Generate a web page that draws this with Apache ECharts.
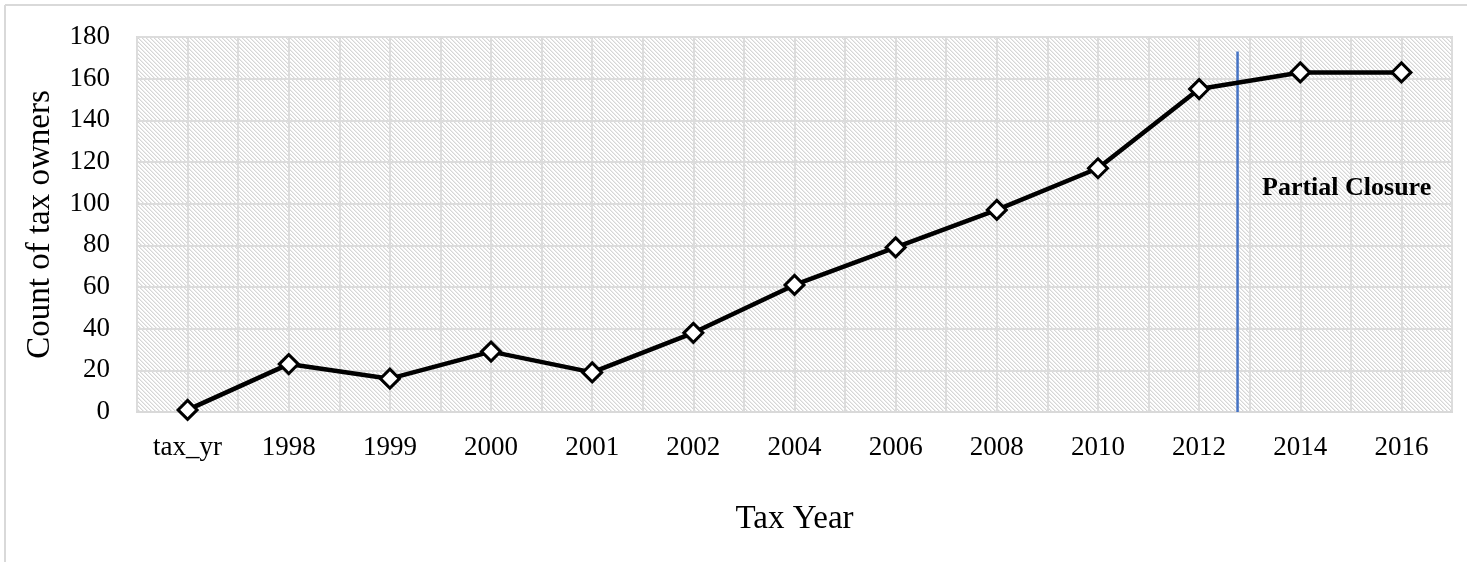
<!DOCTYPE html>
<html>
<head>
<meta charset="utf-8">
<script src="https://cdn.jsdelivr.net/npm/echarts@6/dist/echarts.min.js"></script>
<style>
  html, body { margin: 0; padding: 0; background: #fff; }
  #chart { width: 1467px; height: 562px; }
</style>
</head>
<body>
<div id="chart"></div>
<script>
// Tax owners counted per tax year
const categories = ['tax_yr', '1998', '1999', '2000', '2001', '2002', '2004', '2006', '2008', '2010', '2012', '2014', '2016'];
const ownerCounts = [1, 23, 16, 29, 19, 38, 61, 79, 97, 117, 155, 163, 163];
const yTicks = [0, 20, 40, 60, 80, 100, 120, 140, 160, 180];

// Partial closure marker: position along the category span and its height
const closureAt = 10.88;
const closureTop = 173;
const closureLabel = 'Partial Closure';

const serif = '"Liberation Serif", "Times New Roman", serif';

// Diagonal hatch tile for the plot background
function hatchTile() {
  const c = document.createElement('canvas');
  c.width = 8; c.height = 8;
  const ctx = c.getContext('2d');
  ctx.fillStyle = '#ffffff';
  ctx.fillRect(0, 0, 8, 8);
  const img = ctx.getImageData(0, 0, 8, 8);
  for (let y = 0; y < 8; y++) {
    for (let x = 0; x < 8; x++) {
      const k = ((x - y) % 4 + 4) % 4;
      if (k === 0 || k === 1) {
        const i = (y * 8 + x) * 4;
        const v = k === 0 ? 214 : 236;
        img.data[i] = v; img.data[i + 1] = v; img.data[i + 2] = v; img.data[i + 3] = 255;
      }
    }
  }
  ctx.putImageData(img, 0, 0);
  return c;
}

const chart = echarts.init(document.getElementById('chart'), null, { renderer: 'canvas' });

chart.setOption({
  animation: false,
  backgroundColor: '#ffffff',
  grid: {
    left: 137, right: 15, top: 37, bottom: 150,
    show: true,
    backgroundColor: { image: hatchTile(), repeat: 'repeat' },
    borderColor: '#d9d9d9',
    borderWidth: 2
  },
  graphic: [
    { type: 'line', shape: { x1: 5, y1: 5, x2: 1467, y2: 5 }, style: { stroke: '#d9d9d9', lineWidth: 2 } },
    { type: 'line', shape: { x1: 5, y1: 5, x2: 5, y2: 562 }, style: { stroke: '#d9d9d9', lineWidth: 2 } },
    {
      type: 'text', left: 1262, top: 175, z: 100,
      style: { text: closureLabel, font: 'bold 26px ' + serif, fill: '#000' }
    }
  ],
  xAxis: [
    {
      type: 'category',
      data: categories,
      boundaryGap: true,
      axisLine: { show: true, lineStyle: { color: '#d9d9d9', width: 2 } },
      axisTick: { show: false },
      splitLine: { show: false },
      axisLabel: { color: '#000', fontFamily: serif, fontSize: 27, margin: 22 },
      name: 'Tax Year',
      nameLocation: 'middle',
      nameGap: 91,
      nameTextStyle: { color: '#000', fontFamily: serif, fontSize: 33 }
    },
    {
      type: 'value',
      min: 0, max: categories.length, interval: 0.5,
      position: 'bottom',
      axisLine: { show: false },
      axisTick: { show: false },
      axisLabel: { show: false },
      splitLine: { show: true, lineStyle: { color: '#dcdcdc', width: 2 } }
    }
  ],
  yAxis: {
    type: 'value',
    min: yTicks[0], max: yTicks[yTicks.length - 1], interval: 20,
    axisLine: { show: false },
    axisTick: { show: false },
    axisLabel: { color: '#000', fontFamily: serif, fontSize: 27, margin: 27 },
    splitLine: { show: true, lineStyle: { color: '#dcdcdc', width: 2 } },
    name: 'Count of tax owners',
    nameLocation: 'middle',
    nameGap: 80,
    nameTextStyle: { color: '#000', fontFamily: serif, fontSize: 33 }
  },
  series: [
    {
      type: 'line',
      xAxisIndex: 1,
      data: [[closureAt, 0], [closureAt, closureTop]],
      symbol: 'none',
      lineStyle: { color: '#4472c4', width: 2.5 },
      z: 2,
      silent: true
    },
    {
      type: 'line',
      xAxisIndex: 0,
      data: ownerCounts,
      symbol: 'diamond',
      symbolSize: 19,
      showAllSymbol: true,
      lineStyle: { color: '#000', width: 4.5 },
      itemStyle: { color: '#fff', borderColor: '#000', borderWidth: 3 },
      z: 3
    }
  ]
});
</script>
</body>
</html>
